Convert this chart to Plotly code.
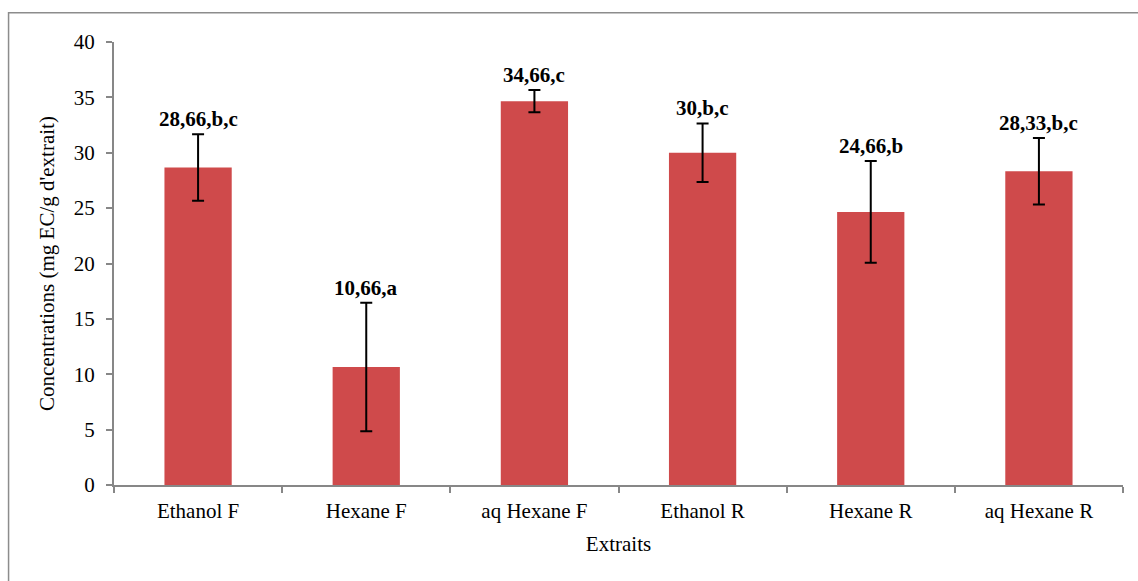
import plotly.graph_objects as go

# Extract categories and measured concentrations (mg EC/g d'extrait)
extraits = ["Ethanol F", "Hexane F", "aq Hexane F", "Ethanol R", "Hexane R", "aq Hexane R"]
concentrations = [28.66, 10.66, 34.66, 30, 24.66, 28.33]
ecart_type = [3.0, 5.8, 1.0, 2.65, 4.6, 3.0]
groupes = ["b,c", "a", "c", "b,c", "b", "b,c"]
y_ticks = [0, 5, 10, 15, 20, 25, 30, 35, 40]

FONT = "Liberation Serif"
AXIS_GREY = "#878787"
BAR_RED = "#CF4A4B"

fig = go.Figure()
fig.add_trace(go.Bar(
    x=extraits,
    y=concentrations,
    marker=dict(color=BAR_RED, line=dict(width=0)),
    error_y=dict(type="data", array=ecart_type, visible=True,
                 color="black", thickness=2, width=6),
    hoverinfo="skip",
))

# Value + significance group labels above each error bar
for name, v, e, g in zip(extraits, concentrations, ecart_type, groupes):
    txt = f"{v:g}".replace(".", ",") + "," + g
    fig.add_annotation(
        x=name, y=v + e, xref="x", yref="y",
        text=f"<b>{txt}</b>", showarrow=False,
        yanchor="bottom", yshift=1,
        font=dict(family=FONT, size=21, color="black"),
    )

# Outer chart frame (left and top edges visible)
fig.add_shape(
    type="rect", xref="paper", yref="paper",
    x0=-0.1045, x1=1.03, y0=-0.25, y1=1.066,
    line=dict(color="#8c8c8c", width=1.5), fillcolor="rgba(0,0,0,0)",
    layer="below",
)

fig.update_layout(
    width=1138, height=581,
    margin=dict(l=114, r=15, t=42, b=96),
    paper_bgcolor="white", plot_bgcolor="white",
    bargap=0.6,
    showlegend=False,
    font=dict(family=FONT, size=21, color="black"),
)

fig.update_xaxes(
    type="category",
    showline=True, linecolor=AXIS_GREY, linewidth=2,
    ticks="outside", tickson="boundaries", ticklen=6, tickcolor=AXIS_GREY, tickwidth=1.5,
    showgrid=False, zeroline=False,
    tickfont=dict(family=FONT, size=21, color="black"),
    ticklabelstandoff=6,
    title=dict(text="Extraits", font=dict(family=FONT, size=21, color="black"), standoff=14),
)

fig.update_yaxes(
    range=[0, 40], tickvals=y_ticks,
    showline=True, linecolor=AXIS_GREY, linewidth=2,
    ticks="outside", ticklen=6, tickcolor=AXIS_GREY, tickwidth=1.5,
    showgrid=False, zeroline=False,
    tickfont=dict(family=FONT, size=21, color="black"),
    ticklabelstandoff=7,
    title=dict(text="Concentrations (mg EC/g d'extrait)",
               font=dict(family=FONT, size=21, color="black"), standoff=13),
)

fig.write_html("out.html")
